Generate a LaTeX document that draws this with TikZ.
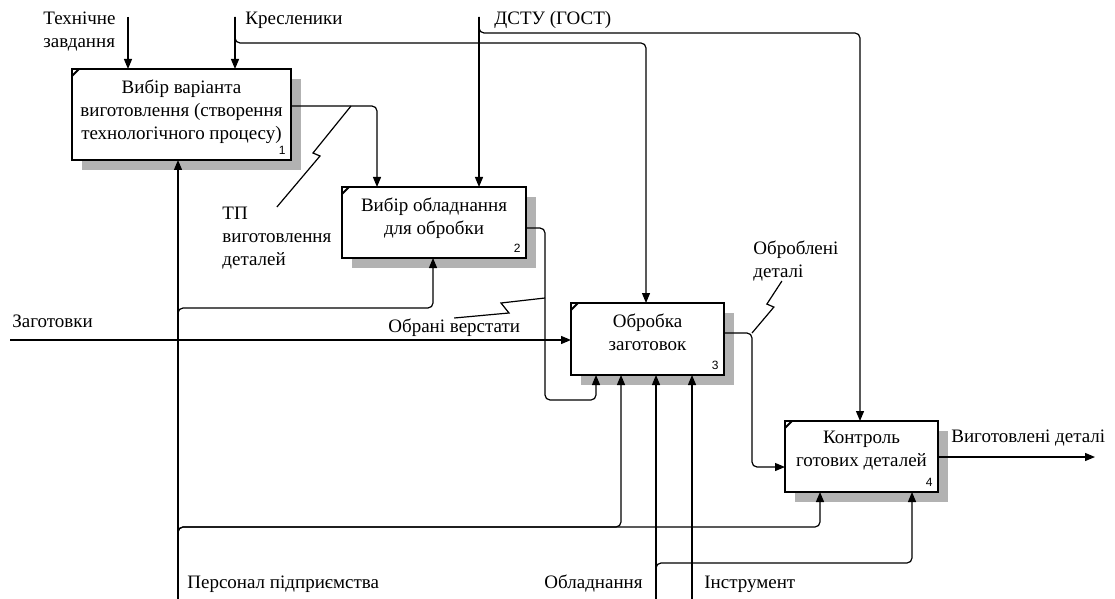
\documentclass[tikz,border=0pt]{standalone}
\usepackage{fontspec}
\setmainfont{Liberation Serif}
\newfontfamily\numfont{Liberation Sans}
\usetikzlibrary{arrows.meta,positioning,shadows}

\begin{document}
\begin{tikzpicture}[x=0.5pt,y=-0.5pt,
font=\fontsize{9.5}{11.5}\selectfont,
box/.style={draw,line width=1.2pt,fill=white,anchor=north west,inner sep=0pt,outer sep=0pt,
  drop shadow={shadow xshift=5pt,shadow yshift=-5pt,fill=black!30,opacity=1}},
ttl/.style={anchor=north,align=center,inner sep=0pt,yshift=-5pt},
num/.style={anchor=south east,inner sep=0pt,xshift=-2.5pt,yshift=2.5pt,font=\numfont\fontsize{6}{7}\selectfont},
lbl/.style={align=left,inner sep=0pt},
arrow/.style={-{Triangle[length=5pt,width=4pt]},line width=0.6pt,rounded corners=2.5pt},
squig/.style={line width=0.6pt}
]
\useasboundingbox (0,0) rectangle (1115,599);

% functional blocks
\node[box,minimum width=109.5pt,minimum height=45.5pt,
  label={[ttl]north:Вибір варіанта\\виготовлення (створення\\технологічного процесу)},
  label={[num]south east:1}] (b1) at (72,69) {};
\node[box,minimum width=92pt,minimum height=35.5pt,below right=13.5pt and 25.5pt of b1,
  label={[ttl]north:Вибір обладнання\\для обробки},
  label={[num]south east:2}] (b2) {};
\node[box,minimum width=76.5pt,minimum height=36pt,below right=22.5pt and 22.5pt of b2,
  label={[ttl]north:Обробка\\заготовок},
  label={[num]south east:3}] (b3) {};
\node[box,minimum width=76.5pt,minimum height=35.5pt,below right=23pt and 30.5pt of b3,
  label={[ttl]north:Контроль\\готових деталей},
  label={[num]south east:4}] (b4) {};
\foreach \b in {b1,b2,b3,b4}
  \draw[line width=1pt] ([yshift=-3.5pt]\b.north west) -- ([xshift=3.5pt]\b.north west);

% free ends
\coordinate (tz) at (128,17);
\coordinate (kr) at (235,17);
\coordinate (dstu) at (479,17);
\coordinate (zag) at (10,340);
\coordinate (vyh) at (1095,457);
\coordinate (pers) at (178,599);
\coordinate (obl) at (656,599);
\coordinate (instr) at (692,599);

% labels
\node[lbl,anchor=north west] (tzl) at (43,12) {Технічне\\завдання};
\node[lbl,anchor=base west] (krl) at (245,25) {Кресленики};
\node[lbl,anchor=base west] (dstul) at (494,25) {ДСТУ (ГОСТ)};
\node[lbl,anchor=base west] (zagl) at (12,327) {Заготовки};
\node[lbl,anchor=north west] (tp) at (222,207) {ТП\\виготовлення\\деталей};
\node[lbl,anchor=base west] (ov) at (388,332) {Обрані верстати};
\node[lbl,anchor=north west] (od) at (753,240) {Оброблені\\деталі};
\node[lbl,anchor=base west] (vyhl) at (951,442) {Виготовлені деталі};
\node[lbl,anchor=base west] (persl) at (187,588) {Персонал підприємства};
\node[lbl,anchor=base east] (obll) at (643,588) {Обладнання};
\node[lbl,anchor=base west] (instrl) at (704,588) {Інструмент};

% controls
\draw[arrow] (tz) -- ([xshift=28pt]b1.north west);
\draw[arrow] (kr) -- ([xshift=81.5pt]b1.north west);
\draw[arrow] (kr) -- ++(0,26) -| ([xshift=37.5pt]b3.north west);
\draw[arrow] (dstu) -- ([xshift=68.5pt]b2.north west);
\draw[arrow] (dstu) -- ++(0,16) -| ([xshift=37.5pt]b4.north west);
\draw[arrow] ([yshift=-18.5pt]b1.north east) -| ([xshift=17.5pt]b2.north west);

% inputs and outputs
\draw[arrow] (zag) -- ([yshift=-18.5pt]b3.north west);
\draw[arrow] ([yshift=-15pt]b3.north east) -- ++(28,0) |- ([yshift=-23pt]b4.north west);
\draw[arrow] ([yshift=-18pt]b4.north east) -- (vyh);

% mechanisms
\draw[arrow] ([yshift=-20.5pt]b2.north east) -- ++(19,0) -- ++(0,172) -| ([xshift=12.5pt]b3.south west);
\draw[arrow] (pers) -- ([xshift=53pt]b1.south west);
\draw[arrow] (pers) -- ++(0,-291) -| ([xshift=45.5pt]b2.south west);
\draw[arrow] (pers) -- ++(0,-72) -| ([xshift=25pt]b3.south west);
\draw[arrow] (pers) -- ++(0,-72) -| ([xshift=17.5pt]b4.south west);
\draw[arrow] (obl) -- ([xshift=42.5pt]b3.south west);
\draw[arrow] (obl) -- ++(0,-36) -| ([xshift=63.5pt]b4.south west);
\draw[arrow] (instr) -- ([xshift=60.5pt]b3.south west);

% squiggles to labels
\draw[squig] ([xshift=30pt,yshift=-18.5pt]b1.north east) -- ++(-38,47) -- ++(7,3) -- (tp.north);
\draw[squig] ([xshift=9.5pt,yshift=-55.5pt]b2.north east) -- ++(-44,5) -- ++(8,10) -- (ov.north);
\draw[squig] ([xshift=-7pt]od.south) -- ++(-15,23) -- ++(7,3) -- ([xshift=14pt,yshift=-15pt]b3.north east);
\end{tikzpicture}
\end{document}
